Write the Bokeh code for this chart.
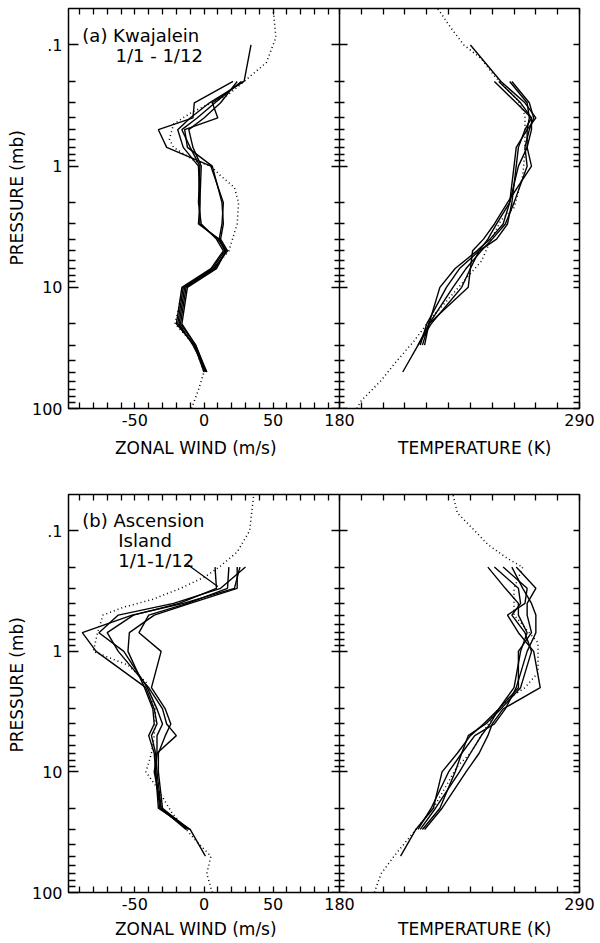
import numpy as np
from bokeh.plotting import figure
from bokeh.models import (Range1d, LinearAxis, LogAxis, FixedTicker,
                          CustomJSTickFormatter, Label, Arrow, Title)
from bokeh.layouts import column
from bokeh.embed import file_html
from bokeh.resources import INLINE

nan = float("nan")

# ---------------- data ----------------
# pressure levels (mb) of the solid profiles
LEV_A = [50, 30, 20, 10, 7, 5, 4, 3, 2, 1, 0.7, 0.5, 0.4, 0.3, 0.2, 0.1]
LEV_B = [50, 30, 20, 10, 7, 5, 4, 3, 2, 1, 0.7, 0.5, 0.4, 0.3, 0.2]

# (a) Kwajalein zonal wind (m/s)
A_W1 = [1, -7, -19, -15, 6, 15, 11, 13, 14, 5, -27, -33, -8, -7, 21, nan]
A_W2 = [2, -8, -18, -14, 8, 16, 10, -3, -3, -4, -15, -19, -10, 4, 29, 34]
A_W3 = [2, -6, -17, -13, 7, 17, 12, 14, 13, 6, -12, -14, 10, 6, 28, nan]
A_W4 = [0, -7, -20, -16, 5, 14, 9, -2, -4, -3, -10, -16, -5, 8, 27, nan]
A_W5 = [1, -6, -16, -12, 9, 16, 11, -4, -3, -2, -8, -11, 0, 12, 24, nan]
A_WD_LEV = [100, 70, 50, 30, 20, 10, 7, 5, 3, 2, 1.5, 1.2, 1, 0.9, 0.7, 0.6,
            0.45, 0.36, 0.26, 0.2, 0.14, 0.087, 0.05]
A_WD = [-9, -4, 0, -7, -21, -15, 7, 18, 24, 25, 22, 12, 5, -7, -22, -25,
        -22, -9, 17, 29, 45, 52, 50]

# (a) Kwajalein temperature (K)
A_T1 = [209, 216, 221, 226, 233, 243, 249, 255, 258, 260, 261, 266, 270, 265, 254, 240]
A_T2 = [nan, 217, 220, 229, 235, 244, 248, 252, 258, 262, 266, 268, 268, 263, 253, nan]
A_T3 = [nan, 218, 221, 232, 238, 245, 250, 256, 260, 266, 265, 267, 269, 267, 259, nan]
A_T4 = [nan, 216, 222, 236, 240, 241, 246, 251, 257, 268, 266, 266, 267, 266, 258, nan]
A_T5 = [nan, 219, 221, 239, 240, 244, 252, 257, 259, 261, 262, 265, 268, 261, 251, nan]
A_TD_LEV = [100, 86, 59, 41, 28, 18, 13, 8.9, 6.1, 4.2, 2.8, 2.2, 1.2, 0.75,
            0.56, 0.38, 0.29, 0.18, 0.13, 0.10, 0.072, 0.05]
A_TD = [188, 190, 199, 206, 214, 222, 229, 237, 245, 249, 254, 260, 264, 265,
        265, 265, 262, 251, 245, 237, 231, 225]

# (b) Ascension Island zonal wind (m/s)
B_W1 = [1, -10, -31, -34, -35, -38, -34, -36, -42, -78, -88, -52, -15, 22, 26]
B_W2 = [nan, -12, -32, -35, -34, -20, -27, -30, -40, -62, -70, -51, -18, 9, 8]
B_W3 = [nan, -11, -30, -33, -33, -28, -24, -28, -38, -31, -47, -40, -12, 17, 18]
B_W4 = [nan, -10, -33, -35, -36, -40, -36, -37, -43, -55, -54, -36, -10, 24, 24]
B_W5 = [nan, -13, -31, -36, -34, -34, -30, -34, -41, -58, -76, -62, -22, 12, 30]
B_WD_LEV = [100, 70, 50, 37, 22, 13, 10, 7, 5, 3, 1.8, 1.3, 1, 0.7, 0.5,
            0.43, 0.37, 0.3, 0.24, 0.2, 0.15, 0.1, 0.05]
B_WD = [6, 2, 5, -6, -23, -35, -42, -38, -36, -35, -42, -55, -80, -77, -73,
        -58, -37, -17, 1, 11, 24, 33, 36]

# (b) Ascension Island temperature (K)
B_T1 = [208, 215, 223, 227, 234, 240, 246, 253, 260, 263, 266, 262, 262, 256, 248]
B_T2 = [nan, 218, 226, 233, 236, 239, 247, 254, 263, 268, 265, 259, 263, 262, 251]
B_T3 = [nan, 219, 227, 238, 244, 248, 250, 255, 272, 269, 262, 257, 265, 266, 255]
B_T4 = [nan, 216, 222, 230, 236, 242, 251, 256, 261, 266, 270, 270, 268, 264, 259]
B_T5 = [nan, 217, 224, 235, 240, 245, 249, 253, 262, 262, 268, 266, 266, 270, 261]
B_TD_LEV = [100, 70, 50, 30, 20, 9, 7, 3.3, 2.5, 2, 1.5, 0.85, 0.5, 0.3, 0.2,
            0.17, 0.13, 0.1, 0.071, 0.05]
B_TD = [196, 199, 205, 215, 223, 234, 240, 251, 257, 265, 271, 271, 260, 260,
        264, 257, 248, 242, 234, 232]

# axis ticks
WIND_TICKS = list(range(-90, 100, 10))
WIND_LABELS = [-50, 0, 50]
TEMP_TICKS = list(range(180, 300, 10))
TEMP_LABELS = [180, 290]
P_MAJOR = [0.1, 1, 10, 100]
P_MINOR = [0.2, 0.3, 0.4, 0.5, 0.6, 0.7, 0.8, 0.9,
           2, 3, 4, 5, 6, 7, 8, 9,
           20, 30, 40, 50, 60, 70, 80, 90]

# ---------------- layout constants ----------------
FONT = "DejaVu Sans"
LEFT, RIGHT, TOP = 68, 21, 8
FRAME_W = 600 - LEFT - RIGHT          # 511
WIND_W = 271                          # left sub-panel width in px
WIND_LO, WIND_HI = -98, 98
TEMP_LO, TEMP_HI = 180, 290
px_per_wind = WIND_W / (WIND_HI - WIND_LO)
px_per_temp = (FRAME_W - WIND_W) / (TEMP_HI - TEMP_LO)
wind_end = WIND_LO + FRAME_W / px_per_wind
temp_start = TEMP_LO - WIND_W / px_per_temp


def temp_to_primary(t):
    # position of a temperature value on the panel's primary (wind) scale
    return WIND_HI + (t - TEMP_LO) * px_per_temp / px_per_wind


X_TICKS = WIND_TICKS + [temp_to_primary(t) for t in TEMP_TICKS]
X_LABELS = ([str(t) if t in WIND_LABELS else "" for t in WIND_TICKS] +
            [str(t) if t in TEMP_LABELS else "" for t in TEMP_TICKS])

BLANK = CustomJSTickFormatter(code="return '';")
XFMT = CustomJSTickFormatter(
    args=dict(tick_pos=X_TICKS, tick_txt=X_LABELS),
    code="""
for (let i = 0; i < tick_pos.length; i++) {
  if (Math.abs(tick_pos[i] - tick) < 1e-6) return tick_txt[i];
}
return '';
""")
YFMT = CustomJSTickFormatter(
    code="return tick < 1 ? '.' + String(tick).split('.')[1] : String(tick);")


def style_ticks(ax, tin, tout=0, mtin=0, mtout=0):
    ax.major_tick_in = tin
    ax.major_tick_out = tout
    ax.minor_tick_in = mtin
    ax.minor_tick_out = mtout
    ax.major_tick_line_color = "black"
    ax.minor_tick_line_color = "black"
    ax.major_tick_line_width = 1.3
    ax.minor_tick_line_width = 1.3
    ax.major_label_text_color = "black"
    ax.axis_label_text_color = "black"


def make_panel(height, bottom, ylab_offset, levels, winds, wdl, wd, temps, tdl, td):
    p = figure(width=600, height=height,
               x_range=Range1d(WIND_LO, wind_end),
               y_range=Range1d(100, 0.05), y_axis_type="log",
               output_backend="svg", toolbar_location=None,
               min_border_left=LEFT, min_border_right=RIGHT,
               min_border_top=TOP, min_border_bottom=bottom)
    p.extra_x_ranges = {"temp": Range1d(temp_start, TEMP_HI)}
    p.grid.visible = False
    p.outline_line_color = "black"
    p.outline_line_width = 1.5
    p.background_fill_color = "white"
    p.border_fill_color = "white"

    for w in winds:
        p.line(x=w, y=levels, line_color="black", line_width=1.4)
    p.line(x=wd, y=wdl, line_color="black", line_width=1.5, line_dash="1 3")
    for t in temps:
        p.line(x=t, y=levels, line_color="black", line_width=1.4,
               x_range_name="temp")
    p.line(x=td, y=tdl, line_color="black", line_width=1.5, line_dash="1 3",
           x_range_name="temp")

    # bottom axis: wind ticks and temperature ticks
    xa = p.xaxis[0]
    xa.ticker = FixedTicker(ticks=X_TICKS)
    xa.formatter = XFMT
    style_ticks(xa, 6)
    xa.axis_line_color = None
    xa.major_label_standoff = 5
    xa.major_label_text_font = FONT
    xa.major_label_text_font_size = "16px"

    # top ticks
    top = LinearAxis(ticker=FixedTicker(ticks=X_TICKS), formatter=BLANK)
    style_ticks(top, 6)
    top.axis_line_color = None
    top.major_label_standoff = 0
    p.add_layout(top, "above")

    # left pressure axis
    ya = p.yaxis[0]
    ya.ticker = FixedTicker(ticks=P_MAJOR, minor_ticks=P_MINOR)
    ya.formatter = YFMT
    style_ticks(ya, 10, 0, 7, 0)
    ya.axis_line_color = None
    ya.major_label_standoff = 6
    ya.major_label_text_font = FONT
    ya.major_label_text_font_size = "16px"
    p.add_layout(Title(text="PRESSURE (mb)", align="left", offset=ylab_offset,
                       text_font=FONT, text_font_size="17px",
                       text_font_style="normal", text_color="black",
                       standoff=4), "left")

    # divider between the two sub-panels
    dv = LogAxis(x_range_name="temp", fixed_location=TEMP_LO,
                 ticker=FixedTicker(ticks=P_MAJOR, minor_ticks=P_MINOR),
                 formatter=BLANK)
    style_ticks(dv, 8, 8, 5, 5)
    dv.axis_line_color = "black"
    dv.axis_line_width = 1.5
    p.add_layout(dv, "right")

    # right edge ticks
    ra = LogAxis(x_range_name="temp",
                 ticker=FixedTicker(ticks=P_MAJOR, minor_ticks=P_MINOR),
                 formatter=BLANK)
    style_ticks(ra, 6, 0, 6, 0)
    ra.axis_line_color = None
    ra.major_label_standoff = 0
    p.add_layout(ra, "right")
    return p


def make_title_strip(height, dy):
    # strip under a panel holding the two sub-panel axis titles
    s = figure(width=600, height=height,
               x_range=Range1d(WIND_LO, wind_end), y_range=Range1d(0, height),
               x_axis_location=None, y_axis_location=None,
               output_backend="svg", toolbar_location=None,
               min_border_left=LEFT, min_border_right=RIGHT,
               min_border_top=0, min_border_bottom=0)
    s.extra_x_ranges = {"temp": Range1d(temp_start, TEMP_HI)}
    s.grid.visible = False
    s.outline_line_color = None
    s.background_fill_color = "white"
    s.border_fill_color = "white"
    s.add_layout(Label(x=-4, y=height - dy, text="ZONAL WIND  (m/s)",
                       text_font=FONT, text_font_size="17px",
                       text_align="center", text_baseline="middle",
                       text_color="black"))
    s.add_layout(Label(x=242, y=height - dy, x_range_name="temp",
                       text="TEMPERATURE (K)", text_font=FONT,
                       text_font_size="17px", text_align="center",
                       text_baseline="middle", text_color="black"))
    return s


pa = make_panel(434, 26, 143, LEV_A, [A_W1, A_W2, A_W3, A_W4, A_W5], A_WD_LEV, A_WD,
                [A_T1, A_T2, A_T3, A_T4, A_T5], A_TD_LEV, A_TD)
sa = make_title_strip(52, 13)
pb = make_panel(432, 26, 140, LEV_B, [B_W1, B_W2, B_W3, B_W4, B_W5], B_WD_LEV, B_WD,
                [B_T1, B_T2, B_T3, B_T4, B_T5], B_TD_LEV, B_TD)
sb = make_title_strip(25, 10)


def add_text(p, x, y, text):
    p.add_layout(Label(x=x, y=y, text=text, text_font=FONT,
                       text_font_size="18px", text_baseline="middle",
                       text_align="left", text_color="black"))


add_text(pa, -88, 0.083, "(a) Kwajalein")
add_text(pa, -64, 0.121, "1/1 - 1/12")
add_text(pb, -88, 0.082, "(b) Ascension")
add_text(pb, -62, 0.12, "Island")
add_text(pb, -62, 0.177, "1/1-1/12")
pb.add_layout(Arrow(x_start=-12, y_start=0.19, x_end=10, y_end=0.29,
                    end=None, line_color="black", line_width=1.2))

layout = column(pa, sa, pb, sb)
open("out.html", "w").write(file_html(layout, INLINE))
